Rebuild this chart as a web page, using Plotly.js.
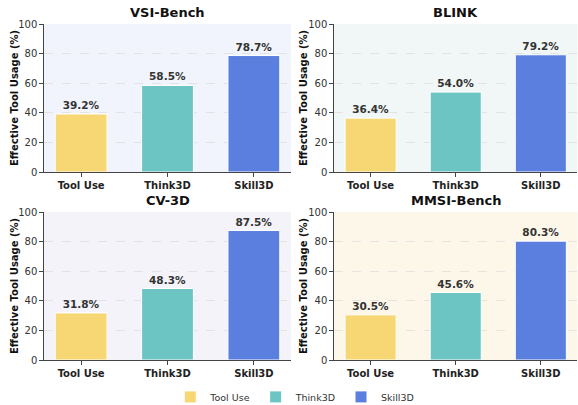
<!DOCTYPE html>
<html>
<head>
<meta charset="utf-8">
<script src="https://cdn.plot.ly/plotly-3.0.1.min.js"></script>
<style>html,body{margin:0;padding:0;background:#fff;}#chart{width:578px;height:405px;}</style>
</head>
<body>
<div id="chart"></div>
<script>
const benchmarks = ['VSI-Bench', 'BLINK', 'CV-3D', 'MMSI-Bench'];
const methods = ['Tool Use', 'Think3D', 'Skill3D'];
const toolUse = [39.2, 36.4, 31.8, 30.5];
const think3d = [58.5, 54.0, 48.3, 45.6];
const skill3d = [78.7, 79.2, 87.5, 80.3];
const yTicks = [0, 20, 40, 60, 80, 100];
const yTitle = 'Effective Tool Usage (%)';

const methodColors = ['#F7D774', '#6CC5C3', '#5B7FDE'];
const bgColors = ['#f1f4fc', '#f1f7f6', '#f5f3fa', '#fdf7ea'];
const seriesByMethod = [toolUse, think3d, skill3d];
const FONT = 'DejaVu Sans, Verdana, sans-serif';

const W = 578, H = 405;
const xDomains = [[0.0761, 0.5035], [0.5779, 0.999]];
const yDomains = [[0.5753, 0.9407], [0.1111, 0.4765]];
const yTitleX = [14 / W, 303 / W];

const traces = [];
const layout = {
  width: W, height: H,
  margin: {l: 0, r: 0, t: 0, b: 0, autoexpand: false},
  paper_bgcolor: '#ffffff',
  plot_bgcolor: 'rgba(0,0,0,0)',
  font: {family: FONT, color: '#333', size: 10},
  bargap: 0,
  showlegend: true,
  legend: {
    orientation: 'h', x: 0.51, xanchor: 'center', y: 0.02, yanchor: 'middle',
    font: {family: FONT, size: 9.5, color: '#333'},
    itemwidth: 30, tracegroupgap: 0, traceorder: 'normal'
  },
  shapes: [], annotations: []
};

benchmarks.forEach((b, i) => {
  const col = i % 2, row = Math.floor(i / 2);
  const sfx = i === 0 ? '' : String(i + 1);
  const xa = 'x' + sfx, ya = 'y' + sfx;
  methods.forEach((m, j) => {
    traces.push({
      type: 'bar',
      x: [j], y: [seriesByMethod[j][i]],
      width: 0.6,
      name: m, legendgroup: m, showlegend: i === 0,
      xaxis: xa, yaxis: ya,
      marker: {color: methodColors[j], line: {color: '#ffffff', width: 1}},
      text: [seriesByMethod[j][i].toFixed(1) + '%'],
      textposition: 'outside',
      cliponaxis: false,
      textfont: {family: FONT, size: 10.5, color: '#333'},
      texttemplate: '<b>%{text}</b>',
      hoverinfo: 'skip'
    });
  });
  layout['xaxis' + sfx] = {
    domain: xDomains[col], anchor: ya,
    range: [-0.43, 2.43], fixedrange: true,
    tickvals: [0, 1, 2],
    ticktext: methods.map(m => '<b>' + m + '</b>'),
    tickfont: {family: FONT, size: 10, color: '#222'},
    ticks: 'outside', ticklen: 3.5, tickcolor: '#444', tickwidth: 1,
    showline: true, linecolor: '#444', linewidth: 1.2,
    showgrid: false, zeroline: false, automargin: false
  };
  layout['yaxis' + sfx] = {
    domain: yDomains[row], anchor: xa,
    range: [0, 100], fixedrange: true,
    tickvals: yTicks,
    tickfont: {family: FONT, size: 10, color: '#333'},
    ticks: 'outside', ticklen: 3.5, tickcolor: '#444', tickwidth: 1,
    showline: true, linecolor: '#444', linewidth: 1.2,
    showgrid: true, gridcolor: '#dedede', griddash: 'dash', gridwidth: 0.8,
    zeroline: false, automargin: false
  };
  layout.shapes.push({
    type: 'rect', xref: xa + ' domain', yref: ya + ' domain',
    x0: 0, x1: 1, y0: 0, y1: 1, layer: 'below',
    fillcolor: bgColors[i], line: {width: 0}
  });
  layout.annotations.push({
    text: '<b>' + b + '</b>',
    xref: xa + ' domain', yref: ya + ' domain',
    x: 0.5, y: 1, yshift: 2, xanchor: 'center', yanchor: 'bottom',
    showarrow: false,
    font: {family: FONT, size: 13, color: '#111'}
  });
  layout.annotations.push({
    text: '<b>' + yTitle + '</b>',
    xref: 'paper', yref: ya + ' domain',
    x: yTitleX[col], y: 0.5, xanchor: 'center', yanchor: 'middle',
    textangle: -90, showarrow: false,
    font: {family: FONT, size: 10, color: '#111'}
  });
});

Plotly.newPlot('chart', traces, layout, {displayModeBar: false, staticPlot: true});
</script>
</body>
</html>
